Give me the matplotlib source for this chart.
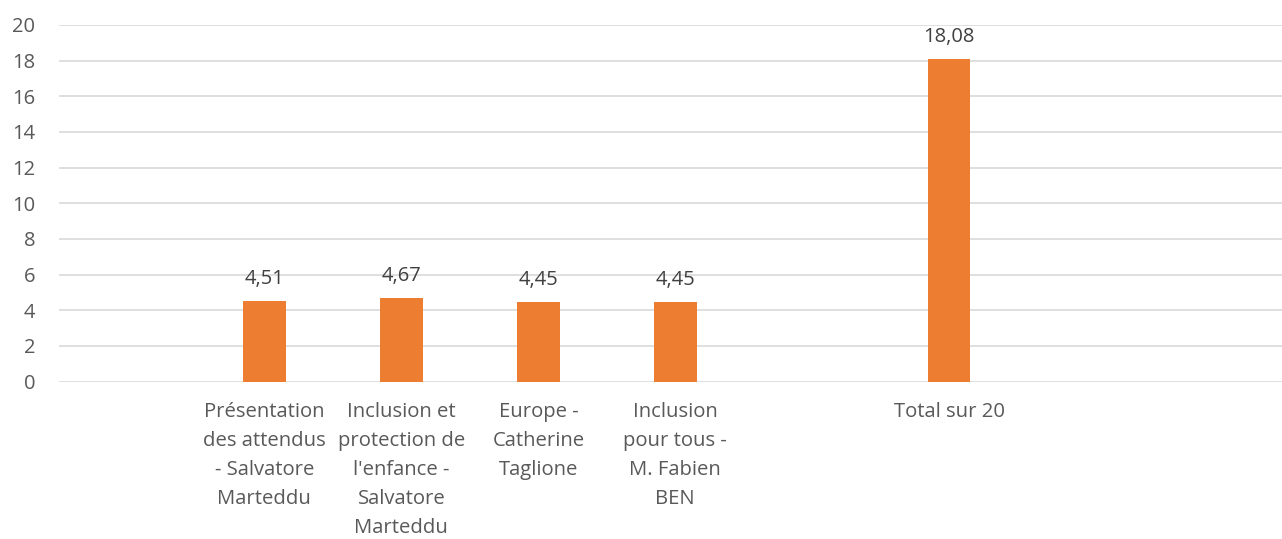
import matplotlib
matplotlib.use("Agg")
import matplotlib.pyplot as plt

categories = ["",
              "Présentation\ndes attendus\n- Salvatore\nMarteddu",
              "Inclusion et\nprotection de\nl'enfance -\nSalvatore\nMarteddu",
              "Europe -\nCatherine\nTaglione",
              "Inclusion\npour tous -\nM. Fabien\nBEN",
              "",
              "Total sur 20",
              "",
              ""]
values = [None, 4.51, 4.67, 4.45, 4.45, None, 18.08, None, None]
yticks = list(range(0, 21, 2))

plt.rcParams['font.family'] = ['Open Sans', 'DejaVu Sans']
fig = plt.figure(figsize=(12.82, 5.39), dpi=100)
ax = fig.add_axes([59/1282, 1 - 381.5/539, (1282-59)/1282, (381.5-25)/539])

xs = list(range(len(categories)))
for x, v in zip(xs, values):
    if v is None:
        continue
    ax.bar(x, v, width=0.31, color='#ED7D31', zorder=3)
    ax.text(x, v + 0.7, f"{v:.2f}".replace('.', ','), ha='center', va='bottom',
            fontsize=14.5, color='#404040')

ax.set_xlim(-0.5, 8.43)
ax.set_ylim(0, 20)
ax.set_yticks(yticks)
ax.set_yticklabels([str(t) for t in yticks], fontsize=14.5, color='#595959')
ax.set_xticks(xs)
ax.set_xticklabels(categories, fontsize=14.6, color='#595959', linespacing=1.59, va='top')
ax.tick_params(axis='both', length=0)
ax.tick_params(axis='x', pad=15)
ax.tick_params(axis='y', pad=17)
for lab in ax.get_yticklabels():
    lab.set_ha('right')
ax.grid(axis='y', color='#D9D9D9', linewidth=1.2, zorder=0)
for s in ax.spines.values():
    s.set_visible(False)

fig.savefig("out.png", dpi=100)
